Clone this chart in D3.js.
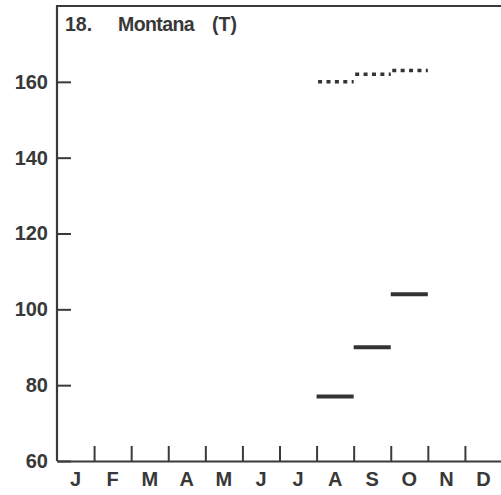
<!DOCTYPE html>
<html>
<head>
<meta charset="utf-8">
<script src="https://cdn.jsdelivr.net/npm/d3@7/dist/d3.min.js"></script>
<style>
  html, body { margin: 0; padding: 0; background: #fff; }
  svg { display: block; }
  text { font-family: "Liberation Sans", Arial, Helvetica, sans-serif; font-weight: bold; fill: #383838; }
</style>
</head>
<body>
<svg id="chart" width="501" height="495"></svg>
<script>
// Month initials along the bottom axis
const monthLabels = ["J", "F", "M", "A", "M", "J", "J", "A", "S", "O", "N", "D"];
// Month index (0 = January) of each plotted period
const periodMonths = [7, 8, 9];
// Solid bars: observed level per month
const solidValues = [77, 90, 104];
// Dotted bars: upper level per month
const dottedValues = [160, 162, 163];
// Y-axis ticks
const yTicks = [60, 80, 100, 120, 140, 160];
const titleParts = ["18.", "Montana", "(T)"];

const svg = d3.select("#chart");
const ink = "#3a3a3a";

const plot = { left: 57, right: 502, top: 6, bottom: 461 };

const x = d3.scaleLinear().domain([0, 12]).range([plot.left, plot.right]);
const y = d3.scaleLinear().domain([60, 180]).range([plot.bottom, plot.top]);

// Frame: top edge and left edge (bottom edge drawn by the x axis)
svg.append("path")
  .attr("d", `M${plot.right},${plot.top}H${plot.left}V${plot.bottom}`)
  .attr("fill", "none")
  .attr("stroke", ink)
  .attr("stroke-width", 2.2);

// Y axis with ticks pointing into the plot
const yAxis = svg.append("g")
  .attr("transform", `translate(${plot.left},0)`)
  .call(d3.axisLeft(y).tickValues(yTicks).tickSizeInner(-14).tickSizeOuter(0).tickPadding(9).tickFormat(d3.format("d")));
yAxis.select(".domain").remove();
yAxis.selectAll(".tick line").attr("stroke", ink).attr("stroke-width", 2);
yAxis.selectAll(".tick text")
  .attr("font-size", 20)
  .attr("font-family", null)
  .attr("fill", "#383838");

// X axis: month boundary ticks
const boundaries = d3.range(1, 12);
const xAxis = svg.append("g")
  .attr("transform", `translate(0,${plot.bottom})`)
  .call(d3.axisBottom(x).tickValues(boundaries).tickSizeInner(-15).tickSizeOuter(0).tickFormat(""));
xAxis.select(".domain").attr("stroke", ink).attr("stroke-width", 2.2);
xAxis.selectAll(".tick line").attr("stroke", ink).attr("stroke-width", 2);

// Month labels centred in each month
const monthScale = d3.scaleBand().domain(d3.range(12)).range([plot.left, plot.right]);
const mAxis = svg.append("g")
  .attr("transform", `translate(0,${plot.bottom})`)
  .call(d3.axisBottom(monthScale).tickSize(0).tickPadding(11).tickFormat(i => monthLabels[i]));
mAxis.select(".domain").remove();
mAxis.selectAll(".tick text")
  .attr("font-size", 20)
  .attr("font-family", null)
  .attr("fill", "#383838");

// Title
const titleX = [65, 118, 212];
const title = svg.append("text").attr("y", 31).attr("font-size", 19.5);
titleParts.forEach((t, i) => title.append("tspan")
  .attr("x", titleX[i])
  .attr("letter-spacing", i === 1 ? -0.6 : 0)
  .text(t));

// Solid bars
svg.append("g").selectAll("line")
  .data(periodMonths.map((m, i) => ({ m, v: solidValues[i] })))
  .join("line")
  .attr("x1", d => x(d.m))
  .attr("x2", d => x(d.m + 1))
  .attr("y1", d => y(d.v))
  .attr("y2", d => y(d.v))
  .attr("stroke", "#333")
  .attr("stroke-width", 4);

// Dotted bars
svg.append("g").selectAll("line")
  .data(periodMonths.map((m, i) => ({ m, v: dottedValues[i] })))
  .join("line")
  .attr("x1", d => x(d.m) + 1.5)
  .attr("x2", d => x(d.m + 1))
  .attr("y1", d => y(d.v))
  .attr("y2", d => y(d.v))
  .attr("stroke", "#333")
  .attr("stroke-width", 3.5)
  .attr("stroke-dasharray", "4,4.4");
</script>
</body>
</html>
